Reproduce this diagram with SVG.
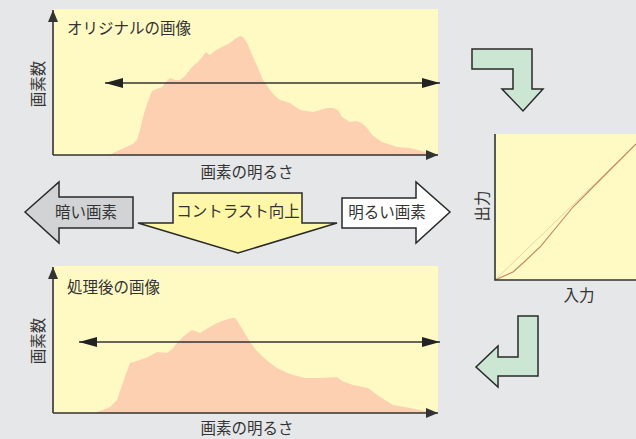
<svg xmlns="http://www.w3.org/2000/svg" width="636" height="439" viewBox="0 0 636 439">
<style>
.t{font-family:"Noto Sans CJK JP","Noto Sans",sans-serif;font-size:15.5px;fill:#333}
.panel{fill:#fff9c4}
.hist{fill:#fcd0b0}
.ax{stroke:#333;stroke-width:1.6;fill:none}
.ln{stroke:#333;stroke-width:1.4;fill:none}
.blk{stroke:#2a2a2a;stroke-width:1.5;stroke-linejoin:miter}
</style>
<defs>
<marker id="ah" viewBox="0 0 12 10" refX="12" refY="5" markerWidth="12" markerHeight="10" markerUnits="userSpaceOnUse" orient="auto-start-reverse"><path d="M0,0 L12,5 L0,10 Z" fill="#333"/></marker>
<marker id="big" viewBox="0 0 18 10" refX="18" refY="5" markerWidth="18" markerHeight="10" markerUnits="userSpaceOnUse" orient="auto-start-reverse"><path d="M0,0 L18,5 L0,10 Z" fill="#222"/></marker>
</defs>
<rect width="636" height="439" fill="#e6e7e9"/>

<g id="original">
<rect class="panel" x="53" y="9" width="385" height="146"/>
<path class="hist" d="M110,155 L113,153 L122,149 L133,144 L137,140 L140,130 L143,117 L147,104 L152,91 L157,89 L162,87 L166,82 L170,78 L175,80 L180,80 L185,76 L192,67 L198,62 L203,56 L206,52 L210,55 L216,50 L222,47 L230,43 L235,39 L240,36 L243,37 L247,43 L253,57 L258,68 L263,80 L270,90 L275,96 L280,100 L290,103 L300,110 L313,112 L320,110 L327,108 L333,108 L338,110 L342,117 L350,122 L356,121 L362,123 L367,128 L372,135 L382,142 L397,147 L410,148 L425,152 L438,154 L438,155 Z"/>
<line class="ax" x1="53" y1="155" x2="53" y2="10" marker-end="url(#ah)"/>
<line class="ax" x1="53" y1="155" x2="438" y2="155" marker-end="url(#ah)"/>
<line class="ln" x1="105" y1="83" x2="440" y2="83" marker-start="url(#big)" marker-end="url(#big)"/>
<text class="t" x="67" y="34">オリジナルの画像</text>
<text class="t" transform="translate(44,84) rotate(-90)" text-anchor="middle">画素数</text>
<text class="t" x="247" y="178" text-anchor="middle">画素の明るさ</text>
</g>

<g id="processed">
<rect class="panel" x="53" y="266" width="385" height="147"/>
<path class="hist" d="M93,413 L100,411 L110,407 L117,400 L122,385 L130,363 L140,360 L148,357 L157,352 L167,353 L172,349 L177,343 L185,335 L192,330 L200,333 L208,328 L217,323 L225,320 L232,318 L235,318 L238,322 L244,332 L250,342 L256,350 L263,357 L270,363 L277,368 L285,372 L293,375 L305,378 L320,378 L337,377 L342,381 L353,385 L368,388 L380,397 L393,405 L410,408 L425,411 L438,412 L438,413 Z"/>
<line class="ax" x1="53" y1="413" x2="53" y2="267" marker-end="url(#ah)"/>
<line class="ax" x1="53" y1="413" x2="438" y2="413" marker-end="url(#ah)"/>
<line class="ln" x1="79" y1="342" x2="440" y2="342" marker-start="url(#big)" marker-end="url(#big)"/>
<text class="t" x="67" y="293">処理後の画像</text>
<text class="t" transform="translate(44,341) rotate(-90)" text-anchor="middle">画素数</text>
<text class="t" x="247" y="434" text-anchor="middle">画素の明るさ</text>
</g>

<g id="curve">
<rect class="panel" x="495" y="134" width="141" height="146"/>
<line x1="495" y1="280" x2="636" y2="144" stroke="#e2c9a0" stroke-width="0.8"/>
<polyline points="495,280 513,272 523,263 540,247 573,207 590,190 636,144" fill="none" stroke="#c0885c" stroke-width="1.1"/>
<polyline class="ax" points="495,134 495,280 636,280"/>
<text class="t" transform="translate(488,206) rotate(-90)" text-anchor="middle">出力</text>
<text class="t" x="579" y="301" text-anchor="middle">入力</text>
</g>

<g id="arrow-down">
<polygon class="blk" fill="#cce6d4" points="472,49 532,49 532,89 543,89 523,111 502,89 513,89 513,69 472,69"/>
</g>
<g id="arrow-back">
<polygon class="blk" fill="#cce6d4" points="518,316 538,316 538,376 498,376 498,387 476,367 498,346 498,357 518,357"/>
</g>

<g id="dark">
<polygon class="blk" fill="#d2d3d5" points="25,212 59,182 59,197 133,197 133,228 59,228 59,243"/>
<text class="t" x="86" y="218" text-anchor="middle">暗い画素</text>
</g>
<g id="contrast">
<polygon class="blk" fill="#fff7a8" points="173,193 302,193 302,223 337,223 238,253 138,223 173,223"/>
<text class="t" x="238" y="217" text-anchor="middle">コントラスト向上</text>
</g>
<g id="bright">
<polygon class="blk" fill="#ffffff" points="342,198 416,198 416,182 450,212 416,243 416,228 342,228"/>
<text class="t" x="387" y="218" text-anchor="middle">明るい画素</text>
</g>
<g id="connectors"/>
</svg>
